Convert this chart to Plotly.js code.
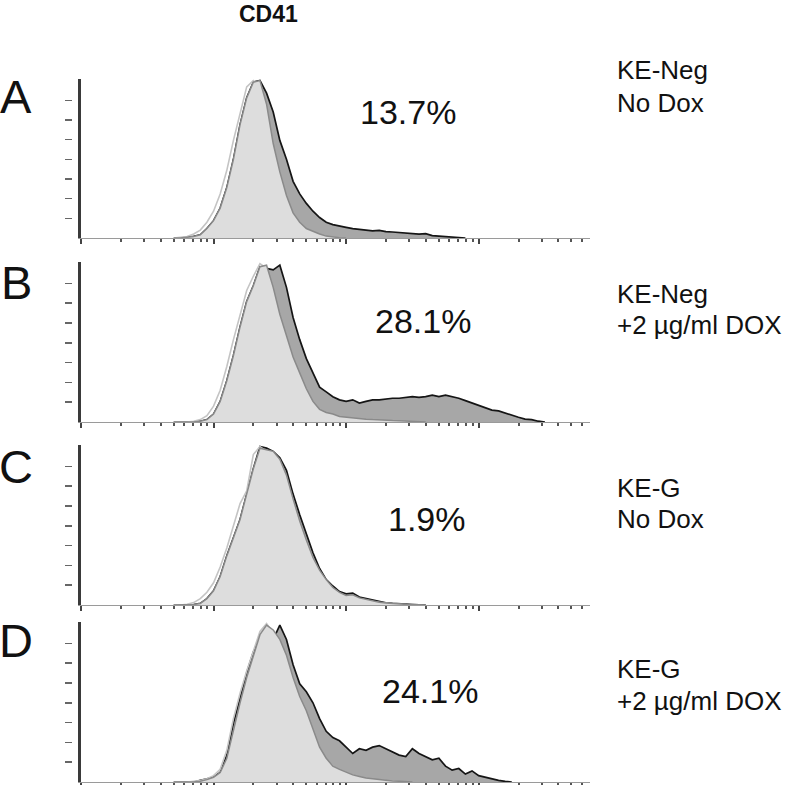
<!DOCTYPE html>
<html><head><meta charset="utf-8">
<script src="https://cdn.plot.ly/plotly-3.0.1.min.js"></script>
<style>html,body{margin:0;padding:0;background:#fff}#chart{width:800px;height:785px}</style>
</head><body><div id="chart"></div>
<script>
// ---- data (x = log10 fluorescence bin, y = relative count, peak = 1) ----
const panelLetters = ['A', 'B', 'C', 'D'];
const percentLabels = ['13.7%', '28.1%', '1.9%', '24.1%'];
const sampleLine1 = ['KE-Neg', 'KE-Neg', 'KE-G', 'KE-G'];
const sampleLine2 = ['No Dox', '+2 µg/ml DOX', 'No Dox', '+2 µg/ml DOX'];
const axisTitle = 'CD41';

const logBins = [0.70,0.75,0.80,0.85,0.90,0.95,1.00,1.05,1.10,1.15,
                 1.20,1.25,1.30,1.35,1.40,1.45,1.50,1.55,1.60,1.65,
                 1.70,1.75,1.80,1.85,1.90,1.95,2.00,2.05,2.10,2.15,
                 2.20,2.25,2.30,2.35,2.40,2.45,2.50,2.55,2.60,2.65,
                 2.70,2.75,2.80,2.85,2.90,2.95,3.00,3.05,3.10,3.15,
                 3.20,3.25,3.30,3.35,3.40,3.45,3.50];

// Panel A : KE-Neg, No Dox
const darkA  = [0,0,0.005,0.01,0.02,0.06,0.11,0.19,0.32,0.5,
                0.72,0.89,0.99,1.0,0.92,0.8,0.62,0.5,0.36,0.28,
                0.22,0.17,0.13,0.1,0.085,0.075,0.068,0.06,0.055,0.05,
                0.045,0.048,0.04,0.038,0.035,0.03,0.03,0.025,0.028,0.015,
                0.012,0.008,0.005,0.002,0];
const lightA = [0,0,0.005,0.01,0.02,0.06,0.11,0.19,0.32,0.5,
                0.72,0.89,0.99,1.0,0.85,0.6,0.42,0.27,0.16,0.1,
                0.06,0.04,0.025,0.012,0.006,0.002,0];
const openA  = [0,0.005,0.01,0.025,0.05,0.1,0.17,0.28,0.43,0.62,
                0.8,0.96,1.0,0.97,0.78,0.52,0.38,0.24,0.14,0.09,
                0.05,0.03,0.015,0.008,0.003,0];

// Panel B : KE-Neg, +2 µg/ml DOX
const darkB  = [0,0,0,0,0.005,0.015,0.05,0.13,0.26,0.42,
                0.6,0.76,0.86,0.98,0.97,0.96,0.99,0.85,0.66,0.52,
                0.4,0.31,0.22,0.19,0.16,0.14,0.13,0.14,0.12,0.13,
                0.14,0.14,0.145,0.15,0.15,0.155,0.16,0.155,0.16,0.17,
                0.16,0.17,0.16,0.15,0.135,0.12,0.1,0.085,0.075,0.07,
                0.055,0.04,0.03,0.018,0.015,0.005,0];
const lightB = [0,0,0,0,0.005,0.015,0.05,0.13,0.26,0.42,
                0.6,0.76,0.86,0.98,0.99,0.85,0.68,0.54,0.41,0.31,
                0.21,0.13,0.08,0.06,0.05,0.035,0.03,0.025,0.02,0.018,
                0.015,0.012,0.01,0.009,0.008,0.006,0.005,0.003,0];
const openB  = [0,0,0,0.005,0.015,0.04,0.1,0.2,0.35,0.52,
                0.68,0.83,0.92,1.0,0.97,0.8,0.63,0.5,0.38,0.28,
                0.19,0.12,0.07,0.05,0.04,0.03,0.025,0.02,0.015,0.012,
                0.01,0.008,0.005,0.003,0];

// Panel C : KE-G, No Dox
const darkC  = [0,0,0,0.003,0.01,0.04,0.09,0.18,0.31,0.42,
                0.54,0.7,0.86,1.0,0.99,0.97,0.93,0.85,0.7,0.57,
                0.45,0.33,0.23,0.16,0.12,0.085,0.07,0.075,0.05,0.04,
                0.03,0.02,0.014,0.01,0.006,0.005,0.003,0.001,0];
const lightC = [0,0,0,0.003,0.01,0.04,0.09,0.18,0.31,0.42,
                0.54,0.7,0.86,0.99,0.98,0.97,0.92,0.82,0.67,0.53,
                0.41,0.3,0.22,0.16,0.11,0.08,0.06,0.065,0.045,0.035,
                0.025,0.018,0.012,0.008,0.005,0.004,0.003,0.001,0];
const openC  = [0,0,0.005,0.015,0.04,0.08,0.14,0.24,0.36,0.5,
                0.64,0.72,0.95,1.0,0.97,0.96,0.9,0.8,0.65,0.52,
                0.4,0.29,0.21,0.15,0.1,0.07,0.05,0.04,0.03,0.025,
                0.02,0.015,0.01,0.007,0.005,0.002,0];

// Panel D : KE-G, +2 µg/ml DOX
const darkD  = [0,0,0,0,0.01,0.02,0.03,0.06,0.17,0.37,
                0.53,0.69,0.82,0.9,0.93,0.9,0.99,0.9,0.74,0.62,
                0.57,0.5,0.4,0.32,0.28,0.26,0.22,0.18,0.21,0.2,
                0.22,0.23,0.21,0.19,0.17,0.16,0.21,0.18,0.16,0.14,
                0.15,0.1,0.075,0.085,0.05,0.07,0.04,0.03,0.017,0.01,
                0.004,0];
const lightD = [0,0,0,0,0.005,0.015,0.03,0.06,0.15,0.33,
                0.5,0.66,0.8,0.93,0.99,0.96,0.9,0.8,0.66,0.54,
                0.45,0.33,0.22,0.15,0.1,0.08,0.06,0.045,0.035,0.025,
                0.02,0.015,0.01,0.007,0.005,0.002,0];
const openD  = [0,0,0,0.005,0.01,0.02,0.04,0.08,0.2,0.4,
                0.56,0.7,0.82,0.95,1.0,0.94,0.88,0.78,0.64,0.52,
                0.42,0.31,0.2,0.14,0.1,0.07,0.05,0.04,0.03,0.02,
                0.015,0.01,0.008,0.004,0];

const darkSeries  = [darkA, darkB, darkC, darkD];
const lightSeries = [lightA, lightB, lightC, lightD];
const openSeries  = [openA, openB, openC, openD];

const majorTickVals = [1, 10, 100, 1000];
const minorTickVals = [2,3,4,5,6,7,8,9, 20,30,40,50,60,70,80,90,
                       200,300,400,500,600,700,800,900, 2000,3000,4000,5000,6000,7000];
const countTickVals = [0.125,0.25,0.375,0.5,0.625,0.75,0.875];

// ---- layout geometry (pixels) ----
const W = 800, H = 785;
const FONT = '"Liberation Sans", Arial, Helvetica, sans-serif';
const panelTop    = [79, 262, 445, 622];
const panelBottom = [238, 422, 605, 782];
const xLeft = 81, xRight = 590;
const xLogRange = [0, 3.84];
const yRange = [0, 1.01];
const letterY  = [97, 283, 466, 640];
const pctX     = [408, 423, 427, 430];
const pctY     = [112, 321, 519, 691];
const labY1    = [70, 294, 488, 669];
const labY2    = [103, 325, 519, 701];

const traces = [];
const layout = {
  width: W, height: H,
  margin: {l: 0, r: 0, t: 0, b: 0},
  paper_bgcolor: '#ffffff', plot_bgcolor: 'rgba(0,0,0,0)',
  showlegend: false,
  font: {family: FONT, color: '#111'},
  annotations: [],
};

const py = v => 1 - v / H;

for (let p = 0; p < 4; p++) {
  const xa = p === 0 ? 'x' : 'x' + (p + 1);
  const ya = p === 0 ? 'y' : 'y' + (p + 1);
  const yt = 'y' + (p + 5);
  const xs = arr => logBins.slice(0, arr.length).map(L => Math.pow(10, L));

  traces.push({
    type: 'scatter', mode: 'lines', x: xs(darkSeries[p]), y: darkSeries[p],
    xaxis: xa, yaxis: ya, fill: 'tozeroy', fillcolor: '#a7a7a7',
    line: {color: '#151515', width: 1.7}, hoverinfo: 'skip'
  });
  traces.push({
    type: 'scatter', mode: 'lines', x: xs(openSeries[p]), y: openSeries[p],
    xaxis: xa, yaxis: ya, line: {color: '#c4c4c4', width: 1.6}, hoverinfo: 'skip'
  });
  traces.push({
    type: 'scatter', mode: 'lines', x: xs(lightSeries[p]), y: lightSeries[p],
    xaxis: xa, yaxis: ya, fill: 'tozeroy', fillcolor: '#dddddd',
    line: {color: '#8a8a8a', width: 1.5}, hoverinfo: 'skip'
  });
  // carrier for the detached count-tick axis
  traces.push({
    type: 'scatter', mode: 'markers', x: [1], y: [0], xaxis: xa, yaxis: yt,
    marker: {opacity: 0, size: 1}, hoverinfo: 'skip'
  });

  const xKey = p === 0 ? 'xaxis' : 'xaxis' + (p + 1);
  const yKey = p === 0 ? 'yaxis' : 'yaxis' + (p + 1);
  layout[xKey] = {
    domain: [xLeft / W, xRight / W], anchor: ya, type: 'log', range: xLogRange,
    showline: true, linecolor: '#9a9a9a', linewidth: 1,
    ticks: 'outside', tickmode: 'array', tickvals: majorTickVals,
    ticklen: 5, tickwidth: 2, tickcolor: '#444',
    minor: {tickmode: 'array', tickvals: minorTickVals, ticks: 'outside',
            ticklen: 3, tickwidth: 2, tickcolor: '#555', showgrid: false},
    showticklabels: false, showgrid: false, zeroline: false, fixedrange: true
  };
  layout[yKey] = {
    domain: [py(panelBottom[p]), py(panelTop[p])], anchor: xa, range: yRange,
    showline: true, linecolor: '#3a3a3a', linewidth: 3,
    ticks: '', showticklabels: false, showgrid: false, zeroline: false, fixedrange: true
  };
  layout['yaxis' + (p + 5)] = {
    overlaying: ya, anchor: 'free', position: 72 / W, side: 'left', range: yRange,
    tickmode: 'array', tickvals: countTickVals, ticks: 'outside', ticklen: 7,
    tickwidth: 1.5, tickcolor: '#666', showline: false, showticklabels: false,
    showgrid: false, zeroline: false, fixedrange: true
  };

  layout.annotations.push(
    {text: panelLetters[p], xref: 'paper', yref: 'paper', x: 16 / W, y: py(letterY[p]),
     xanchor: 'center', yanchor: 'middle', showarrow: false,
     font: {family: FONT, size: 47, color: '#111'}},
    {text: percentLabels[p], xref: 'paper', yref: 'paper', x: pctX[p] / W, y: py(pctY[p]),
     xanchor: 'center', yanchor: 'middle', showarrow: false,
     font: {family: FONT, size: 34, color: '#111'}},
    {text: sampleLine1[p], xref: 'paper', yref: 'paper', x: 615 / W, y: py(labY1[p]),
     xanchor: 'left', yanchor: 'middle', showarrow: false,
     font: {family: FONT, size: 26, color: '#111'}},
    {text: sampleLine2[p], xref: 'paper', yref: 'paper', x: 615 / W, y: py(labY2[p]),
     xanchor: 'left', yanchor: 'middle', showarrow: false,
     font: {family: FONT, size: 26, color: '#111'}}
  );
}

layout.annotations.push({
  text: '<b>' + axisTitle + '</b>', xref: 'paper', yref: 'paper', x: 268 / W, y: py(14),
  xanchor: 'center', yanchor: 'middle', showarrow: false,
  font: {family: FONT, size: 23, color: '#111'}
});

Plotly.newPlot('chart', traces, layout, {staticPlot: true, displayModeBar: false});
</script>
</body></html>
